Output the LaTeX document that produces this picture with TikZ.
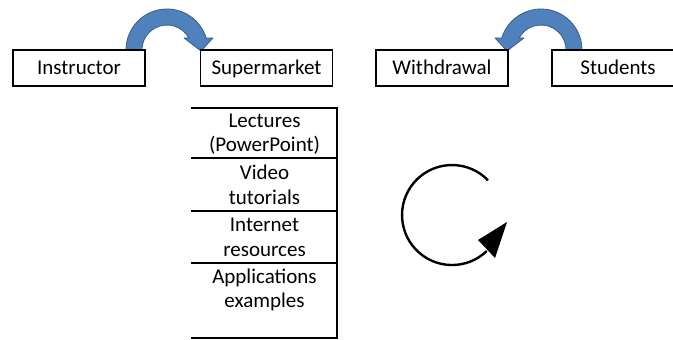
\documentclass[tikz,border=0pt]{standalone}
\usepackage{fontspec}
\setmainfont{Carlito}
\definecolor{bandfill}{HTML}{4F81BD}
\definecolor{bandedge}{HTML}{385D8A}
\tikzset{
  label box/.style={draw=black, line width=1.5pt, minimum width=132pt, minimum height=36pt,
    inner sep=0pt, text height=14pt, text depth=0pt, font=\fontsize{21}{25}\selectfont},
  cell text/.style={anchor=base, inner sep=0pt, font=\fontsize{21}{25}\selectfont},
  band/.style={fill=bandfill, draw=bandedge, line width=0.8pt, line join=round},
  rule/.style={line width=1.6pt, line cap=rect}
}
\begin{document}
\begin{tikzpicture}[x=1pt,y=1pt]
\useasboundingbox (0,0) rectangle (673,340);
\clip (0,0) rectangle (673,340);
\fill[white] (0,0) rectangle (673,340);

% curved block arrows above the boxes
\path[band] (126,290) arc[start angle=180, end angle=17, radius=41]
  -- (213,302) -- (201,289) -- (184,302) -- (188.9,302)
  arc[start angle=28.7, end angle=180, radius=25] -- cycle;
\path[band] (582,290) arc[start angle=0, end angle=163, radius=41]
  -- (495,302) -- (507,289) -- (524,302) -- (519.1,302)
  arc[start angle=151.3, end angle=0, radius=25] -- cycle;

% top row of boxes
\node[label box] (instructor) at (79,272) {Instructor};
\node[label box] (supermarket) at (266.5,272) {Supermarket};
\node[label box] (withdrawal) at (442,272) {Withdrawal};
\node[label box] (students) at (618,272) {Students};

% list of resources
\draw[rule] (192,232) -- (337,232);
\draw[rule] (192,182) -- (337,182);
\draw[rule] (192,129) -- (337,129);
\draw[rule] (192,77) -- (337,77);
\draw[rule] (192,2) -- (337,2);
\draw[rule] (337,232) -- (337,2);

\node[cell text] (lec1) at (264.5,212) {Lectures};
\node[cell text] (lec2) at (264.5,188) {(PowerPoint)};
\node[cell text] (vid1) at (264.5,160) {Video};
\node[cell text] (vid2) at (264.5,135) {tutorials};
\node[cell text] (int1) at (264.5,108) {Internet};
\node[cell text] (int2) at (264.5,83) {resources};
\node[cell text] (app1) at (264.5,56) {Applications};
\node[cell text] (app2) at (264.5,32) {examples};

% circular arrow
\draw[line width=2.4pt] (488,159.7) arc[start angle=44, end angle=314, radius=50];
\fill[black] (507,118) -- (478,100) -- (495,82) -- cycle;
\end{tikzpicture}
\end{document}
